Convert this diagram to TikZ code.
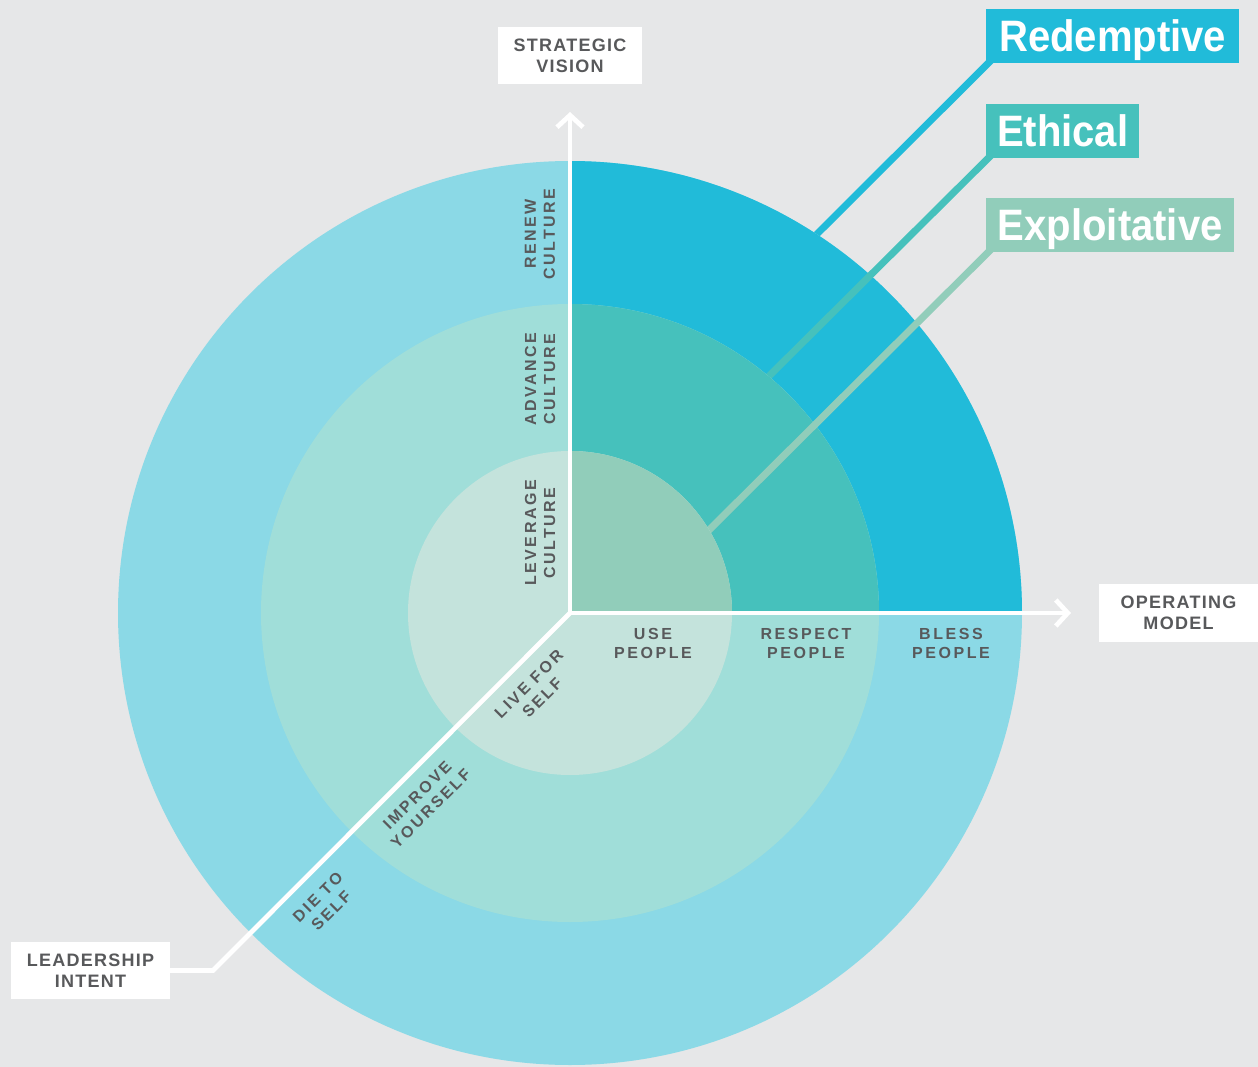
\documentclass[tikz,border=0pt]{standalone}
\usepackage{fontspec}
\setmainfont{Liberation Sans}
\newfontfamily\boxfont[LetterSpace=7]{Liberation Sans}
\newfontfamily\ringfont[LetterSpace=16]{Liberation Sans}
\newfontfamily\callfont[FakeStretch=0.91]{Liberation Sans}
\usetikzlibrary{arrows.meta,calc}
\definecolor{bg}{HTML}{E6E7E8}
\definecolor{outerL}{HTML}{8BD9E6}
\definecolor{outerD}{HTML}{21BBD9}
\definecolor{midL}{HTML}{A0DED9}
\definecolor{midD}{HTML}{46C1BC}
\definecolor{innL}{HTML}{C4E3DC}
\definecolor{innD}{HTML}{91CDBA}
\definecolor{txt}{HTML}{58595B}
\begin{document}
\begin{tikzpicture}[x=1pt,y=-1pt,
  axisline/.style={draw=white, line width=4.7pt},
  axistip/.style={-{Straight Barb[length=12pt,width=26pt]}},
  axislbl/.style={fill=white, text=txt, font=\boxfont\bfseries\fontsize{18}{21}\selectfont, align=center, inner sep=0pt},
  ringlbl/.style={text=txt, font=\ringfont\bfseries\fontsize{16}{19}\selectfont, align=center, inner sep=0pt},
  callout/.style={text=white, font=\callfont\bfseries\fontsize{44}{50}\selectfont, inner sep=0pt, text height=31.5pt, text depth=0pt, minimum height=54pt, anchor=north west},
  leader/.style={line width=7pt}]
\fill[bg] (0,0) rectangle (1258,1067);
\useasboundingbox (0,0) rectangle (1258,1067);

\coordinate (C) at (570,613);

% callouts
\node[callout, fill=outerD, minimum width=253pt] (red) at (986,9) {Redemptive};
\node[callout, fill=midD, minimum width=153pt] (eth) at (986,104) {Ethical};
\node[callout, fill=innD, minimum width=248pt] (exp) at (986,198) {Exploitative};

\coordinate (redE) at (804,247);
\coordinate (ethE) at (756,389);
\coordinate (expE) at (698,541);

% outer ring
\draw[leader, outerD] ($(red.south west)+(8,-6)$) -- (redE);
\fill[outerL] (C) circle[radius=452pt];
\fill[outerD] (C) -- ++(452pt,0) arc[start angle=0, end angle=90, radius=452pt] -- cycle;
% middle ring
\draw[leader, midD] ($(eth.south west)+(8,-6)$) -- (ethE);
\fill[midL] (C) circle[radius=309pt];
\fill[midD] (C) -- ++(309pt,0) arc[start angle=0, end angle=90, radius=309pt] -- cycle;
% inner ring
\draw[leader, innD] ($(exp.south west)+(8,-6)$) -- (expE);
\fill[innL] (C) circle[radius=162pt];
\fill[innD] (C) -- ++(162pt,0) arc[start angle=0, end angle=90, radius=162pt] -- cycle;

% axis labels
\node[axislbl, minimum width=144pt, minimum height=57pt] (sv) at (570,55.5) {STRATEGIC\\VISION};
\node[axislbl, minimum width=159pt, minimum height=58pt] (om) at (1178.5,613) {OPERATING\\MODEL};
\node[axislbl, minimum width=159pt, minimum height=57pt] (li) at (90.5,970.5) {LEADERSHIP\\INTENT};

\coordinate (svTip) at (570,112);
\coordinate (omTip) at (1071,613);
\coordinate (liBend) at (213,970.5);

\draw[axisline, axistip] (C) -- (svTip);
\draw[axisline, axistip] (C) -- (omTip);
\draw[axisline, line join=miter] (C) -- (liBend) -- (li.east);

% ring labels: vertical
\node[ringlbl, rotate=90] (renew) at (540,234) {RENEW\\CULTURE};
\node[ringlbl, rotate=90] (advance) at (540,379) {ADVANCE\\CULTURE};
\node[ringlbl, rotate=90] (leverage) at (540,533) {LEVERAGE\\CULTURE};
% horizontal
\node[ringlbl] (use) at (653,643) {USE\\PEOPLE};
\node[ringlbl] (respect) at (806,643) {RESPECT\\PEOPLE};
\node[ringlbl] (bless) at (951,643) {BLESS\\PEOPLE};
% diagonal
\node[ringlbl, rotate=45] (live) at (535.5,691) {LIVE FOR\\SELF};
\node[ringlbl, rotate=45] (improve) at (424,802) {IMPROVE\\YOURSELF};
\node[ringlbl, rotate=45] (die) at (324.5,904) {DIE TO\\SELF};
\end{tikzpicture}
\end{document}
